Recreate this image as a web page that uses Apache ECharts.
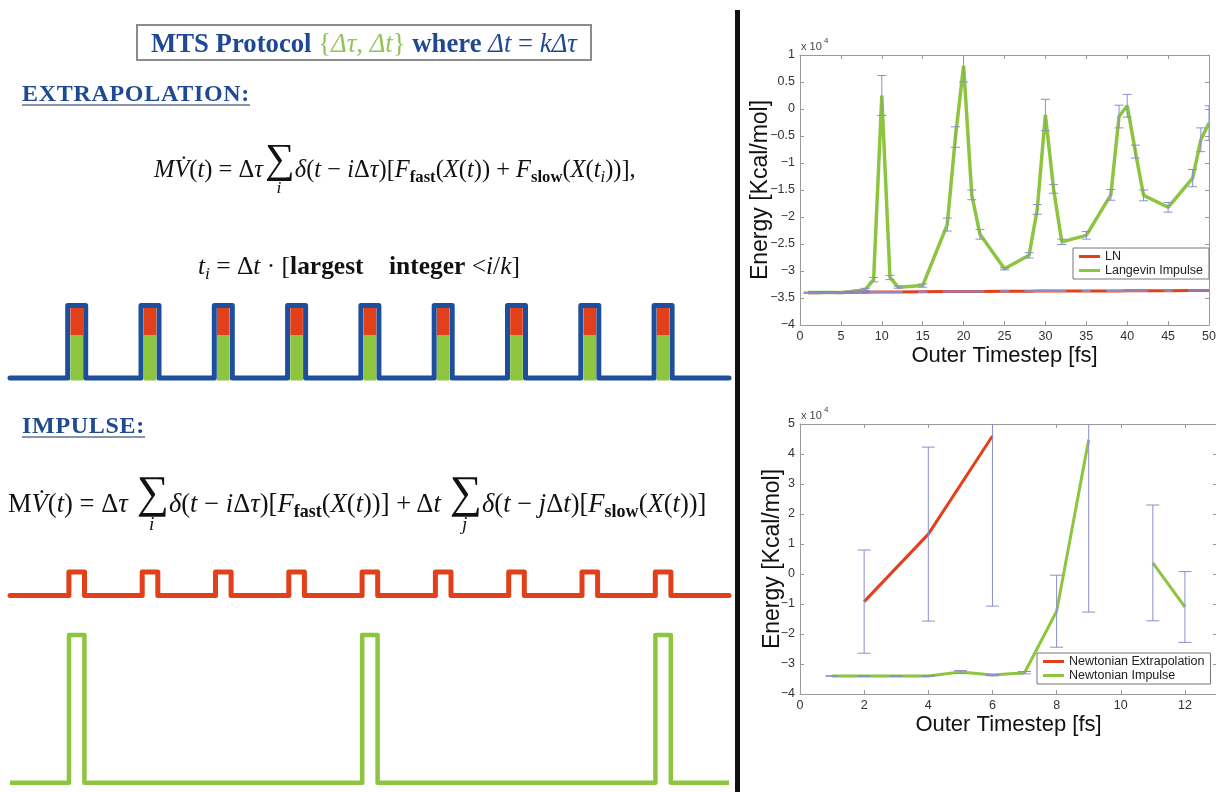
<!DOCTYPE html>
<html lang="en">
<head>
<meta charset="UTF-8">
<title>MTS Protocol - extrapolation vs impulse</title>
<script src="https://cdn.jsdelivr.net/npm/echarts@6/dist/echarts.min.js"></script>
<style>
    body { margin: 0; background: #fff; }
    #wrap { position: relative; width: 1216px; height: 792px; overflow: hidden; background: #fff; }
    #chart { position: absolute; left: 0; top: 0; width: 1216px; height: 792px; }
    .txt { position: absolute; font-family: "Liberation Serif", "DejaVu Serif", serif; color: #111; white-space: nowrap; line-height: 1.2; z-index: 2; }
    .head { color: #1f4a93; font-weight: bold; font-size: 24px; line-height: 24px; letter-spacing: 0.7px;
            text-decoration: underline; text-decoration-color: #8d93a6; text-decoration-thickness: 2px; text-underline-offset: 3px; }
    .txt sub { font-size: 0.68em; vertical-align: -0.3em; line-height: 0; }
    .b { font-weight: bold; font-style: normal; }
    .sum { display: inline-block; position: relative; width: 1.3em; height: 1em; vertical-align: -0.1em; }
    .sum .sym { position: absolute; left: 0.05em; top: -0.4em; font-size: 1.7em; line-height: 1; font-style: normal; }
    .sum .lim { position: absolute; left: 0; width: 100%; top: 1.3em; text-align: center; font-size: 0.72em; font-style: italic; }
    #box { position: absolute; left: 136px; top: 24px; width: 452px; height: 33px; border: 2px solid #8c8c8c; z-index: 1; }
    #divider { position: absolute; left: 735px; top: 10px; width: 5px; height: 782px; background: #111; z-index: 2; }
</style>
</head>
<body>
<div id="wrap">
    <div id="chart"></div>
    <div id="box"></div>
    <div id="divider"></div>

    <div class="txt" id="boxText"><b style="color:#1f4a93">MTS Protocol</b> <span style="color:#93c35a">{<i>Δτ</i>, <i>Δt</i>}</span> <b style="color:#1f4a93">where</b> <span style="color:#1f4a93"><i>Δt</i> = <i>kΔτ</i></span></div>

    <div class="txt head" style="left:22px; top:81px;">EXTRAPOLATION:</div>
    <div class="txt head" style="left:22px; top:413px;">IMPULSE:</div>

    <div class="txt" id="eq1"><i>M</i><i>V̇</i>(<i>t</i>) = Δ<i>τ</i><span class="sum"><span class="sym">∑</span><span class="lim">i</span></span><i>δ</i>(<i>t</i> − <i>i</i>Δ<i>τ</i>)[<i>F</i><sub class="b">fast</sub>(<i>X</i>(<i>t</i>)) + <i>F</i><sub class="b">slow</sub>(<i>X</i>(<i>t</i><sub><i>i</i></sub>))],</div>

    <div class="txt" id="eq2"><i>t</i><sub><i>i</i></sub> = Δ<i>t</i> · [<b>largest</b>&emsp;<b>integer</b> &lt;<i>i</i>/<i>k</i>]</div>

    <div class="txt" id="eq3">M<i>V̇</i>(<i>t</i>) = Δ<i>τ</i> <span class="sum"><span class="sym">∑</span><span class="lim">i</span></span><i>δ</i>(<i>t</i> − <i>i</i>Δ<i>τ</i>)[<i>F</i><sub class="b">fast</sub>(<i>X</i>(<i>t</i>))] + Δ<i>t</i> <span class="sum"><span class="sym">∑</span><span class="lim">j</span></span><i>δ</i>(<i>t</i> − <i>j</i>Δ<i>t</i>)[<i>F</i><sub class="b">slow</sub>(<i>X</i>(<i>t</i>))]</div>
</div>

<script type="text/javascript">
    // pulse trains, in units of the inner step (pulse index)
    var extrapPulses = [1, 2, 3, 4, 5, 6, 7, 8, 9];
    var fastPulses = [1, 2, 3, 4, 5, 6, 7, 8, 9];
    var slowPulses = [1, 5, 9];

    // top right: Langevin runs (energy in units of 1e4 kcal/mol)
    var langX = [1, 2, 3, 4, 5, 6, 7, 8, 9, 10, 11, 12, 15, 18, 19, 20, 21, 22, 25, 28, 29, 30, 31, 32, 35, 38, 39, 40, 41, 42, 45, 48, 49, 50];
    var lnY = [-3.405, -3.405, -3.40, -3.40, -3.40, -3.40, -3.395, -3.395, -3.39, -3.39, -3.39, -3.39, -3.385, -3.38, -3.38, -3.38, -3.38, -3.38, -3.375, -3.375, -3.37, -3.37, -3.37, -3.37, -3.37, -3.37, -3.37, -3.365, -3.365, -3.365, -3.365, -3.36, -3.36, -3.36];
    var lnErr = [0.01, 0.01, 0.01, 0.01, 0.01, 0.01, 0.01, 0.01, 0.01, 0.01, 0.01, 0.01, 0.01, 0.01, 0.01, 0.01, 0.01, 0.01, 0.01, 0.01, 0.01, 0.01, 0.01, 0.01, 0.01, 0.01, 0.01, 0.01, 0.01, 0.01, 0.01, 0.01, 0.01, 0.01];
    var langY = [-3.40, -3.40, -3.40, -3.40, -3.40, -3.39, -3.37, -3.34, -3.16, 0.25, -3.12, -3.30, -3.27, -2.14, -0.52, 0.80, -1.59, -2.32, -2.96, -2.71, -1.86, -0.11, -1.48, -2.46, -2.34, -1.59, -0.14, 0.06, -0.79, -1.60, -1.82, -1.28, -0.57, -0.26];
    var langErr = [0.01, 0.01, 0.01, 0.01, 0.02, 0.02, 0.02, 0.02, 0.04, 0.37, 0.04, 0.02, 0.03, 0.12, 0.19, 0.30, 0.09, 0.09, 0.02, 0.05, 0.09, 0.29, 0.08, 0.05, 0.07, 0.10, 0.21, 0.21, 0.12, 0.10, 0.09, 0.16, 0.22, 0.32];

    // bottom right: Newtonian runs
    var newtX = [1, 2, 3, 4, 5, 6, 7, 8, 9, 10, 11, 12];
    var extrapY = [null, -0.92, null, 1.33, null, 4.60, null, null, null, null, null, null];
    var extrapErr = [null, 1.72, null, 2.90, null, 5.67, null, null, null, null, null, null];
    var impulseY = [-3.40, -3.40, -3.40, -3.40, -3.27, -3.37, -3.29, -1.24, 4.48, null, 0.37, -1.10];
    var impulseErr = [0.01, 0.01, 0.01, 0.01, 0.05, 0.02, 0.04, 1.20, 5.75, null, 1.93, 1.18];

    var BLUE = '#1d4f9c', RED = '#e2401b', GREEN = '#8dc540', ERR = '#8a8ecf';
    var SANS = '"Liberation Sans", Arial, Helvetica, sans-serif';

    // pulse axis: grid spans 719px, pulse pitch 73.3px
    var pMin = 0.09, pMax = 9.899, pulseW = 719;
    function pxToPulse(px) { return px * (pMax - pMin) / pulseW; }

    function pulseLine(centers, halfPx) {
        var h = pxToPulse(halfPx);
        var pts = [[pMin, 0]];
        centers.forEach(function (c) {
            pts.push([c - h, 0], [c - h, 1], [c + h, 1], [c + h, 0]);
        });
        pts.push([pMax, 0]);
        return pts;
    }

    function pairs(xs, ys) {
        return xs.map(function (x, i) { return [x, ys[i] == null ? '-' : ys[i]]; });
    }
    function errData(xs, ys, es) {
        var out = [];
        xs.forEach(function (x, i) {
            if (ys[i] == null || es[i] == null) return;
            out.push([x, ys[i] - es[i], ys[i] + es[i]]);
        });
        return out;
    }
    function errorBars(capPx) {
        return function (params, api) {
            var x = api.value(0);
            var lo = api.coord([x, api.value(1)]);
            var hi = api.coord([x, api.value(2)]);
            var h = capPx / 2;
            var st = { stroke: ERR, lineWidth: 1 };
            return {
                type: 'group',
                children: [
                    { type: 'line', shape: { x1: lo[0], y1: lo[1], x2: hi[0], y2: hi[1] }, style: st },
                    { type: 'line', shape: { x1: lo[0] - h, y1: lo[1], x2: lo[0] + h, y2: lo[1] }, style: st },
                    { type: 'line', shape: { x1: hi[0] - h, y1: hi[1], x2: hi[0] + h, y2: hi[1] }, style: st }
                ]
            };
        };
    }
    function minus(v) { return String(v).replace('-', '\u2212'); }

    // matlab-like boxed axes
    var boxLine = { show: true, onZero: false, lineStyle: { color: '#9a9a9a', width: 1 } };
    var boxTick = { show: true, inside: true, length: 4, lineStyle: { color: '#9a9a9a' } };

    function xAxes(grid, min, max, interval) {
        return [{
            gridIndex: grid, type: 'value', min: min, max: max, interval: interval,
            axisLine: boxLine, axisTick: boxTick, splitLine: { show: false },
            axisLabel: { fontFamily: SANS, fontSize: 12.5, color: '#333', margin: 5, showMaxLabel: max % interval === 0 },
            name: 'Outer Timestep [fs]', nameLocation: 'middle', nameGap: 20, nameMoveOverlap: false,
            nameTextStyle: { fontFamily: SANS, fontSize: 22, color: '#111' }
        }, {
            gridIndex: grid, type: 'value', position: 'top', min: min, max: max, interval: interval,
            axisLine: boxLine, axisTick: boxTick, axisLabel: { show: false }, splitLine: { show: false }
        }];
    }
    function yAxes(grid, min, max, interval, gap) {
        return [{
            gridIndex: grid, type: 'value', min: min, max: max, interval: interval,
            axisLine: boxLine, axisTick: boxTick, splitLine: { show: false },
            axisLabel: { fontFamily: SANS, fontSize: 12.5, color: '#333', margin: 5, formatter: minus },
            name: 'Energy [Kcal/mol]', nameLocation: 'middle', nameGap: gap, nameMoveOverlap: false,
            nameTextStyle: { fontFamily: SANS, fontSize: 23, color: '#111' }
        }, {
            gridIndex: grid, type: 'value', position: 'right', min: min, max: max, interval: interval,
            axisLine: boxLine, axisTick: boxTick, axisLabel: { show: false }, splitLine: { show: false }
        }];
    }
    function hiddenAxis(grid, min, max) {
        return { gridIndex: grid, type: 'value', min: min, max: max, show: false, splitLine: { show: false } };
    }

    var xAxis = [].concat(
        xAxes(0, 0, 50, 5),
        xAxes(1, 0, 13, 2),
        [hiddenAxis(2, pMin, pMax), hiddenAxis(3, pMin, pMax), hiddenAxis(4, pMin, pMax)]
    );
    var yAxis = [].concat(
        yAxes(0, -4, 1, 0.5, 28),
        yAxes(1, -4, 5, 1, 16),
        [hiddenAxis(2, 0, 1), hiddenAxis(3, 0, 1), hiddenAxis(4, 0, 1)]
    );

    var extrapSplit = 0.593;

    var series = [
        // pulse trains
        {
            type: 'line', xAxisIndex: 4, yAxisIndex: 4, data: pulseLine(extrapPulses, 9),
            symbol: 'none', clip: false, z: 2,
            lineStyle: { color: BLUE, width: 5, cap: 'round', join: 'round' }
        },
        {
            type: 'custom', xAxisIndex: 4, yAxisIndex: 4, z: 3,
            data: extrapPulses.map(function (c) { return [c]; }),
            renderItem: function (params, api) {
                var c = api.value(0);
                var top = api.coord([c, 1]), base = api.coord([c, 0]), mid = api.coord([c, extrapSplit]);
                var hw = 6.3;
                return {
                    type: 'group', children: [
                        { type: 'rect', shape: { x: top[0] - hw, y: top[1] + 2.5, width: 2 * hw, height: mid[1] - top[1] - 2.5 }, style: { fill: RED } },
                        { type: 'rect', shape: { x: top[0] - hw, y: mid[1], width: 2 * hw, height: base[1] + 2.5 - mid[1] }, style: { fill: GREEN } }
                    ]
                };
            }
        },
        {
            type: 'line', xAxisIndex: 5, yAxisIndex: 5, data: pulseLine(fastPulses, 7.8),
            symbol: 'none', clip: false,
            lineStyle: { color: RED, width: 5, cap: 'round', join: 'round' }
        },
        {
            type: 'line', xAxisIndex: 6, yAxisIndex: 6, data: pulseLine(slowPulses, 7.7),
            symbol: 'none', clip: false,
            lineStyle: { color: GREEN, width: 4.5, cap: 'butt', join: 'round' }
        },

        // top right chart
        {
            name: 'Langevin Impulse', type: 'line', xAxisIndex: 0, yAxisIndex: 0,
            data: pairs(langX, langY), symbol: 'none', z: 2,
            lineStyle: { color: GREEN, width: 3.5 }, itemStyle: { color: GREEN }
        },
        {
            name: 'LN', type: 'line', xAxisIndex: 0, yAxisIndex: 0,
            data: pairs(langX, lnY), symbol: 'none', z: 3,
            lineStyle: { color: RED, width: 3 }, itemStyle: { color: RED }
        },
        {
            type: 'custom', xAxisIndex: 0, yAxisIndex: 0, clip: true, z: 4,
            data: errData(langX, langY, langErr), renderItem: errorBars(9)
        },
        {
            type: 'custom', xAxisIndex: 0, yAxisIndex: 0, clip: true, z: 4,
            data: errData(langX, lnY, lnErr), renderItem: errorBars(9)
        },

        // bottom right chart
        {
            name: 'Newtonian Extrapolation', type: 'line', xAxisIndex: 2, yAxisIndex: 2,
            data: pairs(newtX, extrapY), symbol: 'none', connectNulls: true, z: 3,
            lineStyle: { color: RED, width: 3 }, itemStyle: { color: RED }
        },
        {
            name: 'Newtonian Impulse', type: 'line', xAxisIndex: 2, yAxisIndex: 2,
            data: pairs(newtX, impulseY), symbol: 'none', connectNulls: false, z: 3,
            lineStyle: { color: GREEN, width: 3 }, itemStyle: { color: GREEN }
        },
        {
            type: 'custom', xAxisIndex: 2, yAxisIndex: 2, clip: true, z: 4,
            data: errData(newtX, extrapY, extrapErr), renderItem: errorBars(13)
        },
        {
            type: 'custom', xAxisIndex: 2, yAxisIndex: 2, clip: true, z: 4,
            data: errData(newtX, impulseY, impulseErr), renderItem: errorBars(13)
        }
    ];

    var legendBase = {
        orient: 'vertical', icon: 'rect', itemWidth: 21, itemHeight: 3, itemGap: 1,
        backgroundColor: '#fff', borderColor: '#777', borderWidth: 1, borderRadius: 0,
        padding: [2, 6, 2, 6],
        textStyle: { fontFamily: SANS, fontSize: 12.5, lineHeight: 13, color: '#222' }
    };

    var myChart = echarts.init(document.getElementById('chart'), null, { renderer: 'canvas' });
    myChart.setOption({
        animation: false,
        backgroundColor: 'transparent',
        grid: [
            { left: 800, top: 55, width: 409, height: 270, outerBoundsMode: 'none' },
            { left: 800, top: 424, width: 417, height: 270, outerBoundsMode: 'none' },
            { left: 10, top: 305.5, width: pulseW, height: 72.5, outerBoundsMode: 'none' },
            { left: 10, top: 572, width: pulseW, height: 23.5, outerBoundsMode: 'none' },
            { left: 10, top: 635, width: pulseW, height: 147.7, outerBoundsMode: 'none' }
        ],
        xAxis: xAxis,
        yAxis: yAxis,
        legend: [
            Object.assign({}, legendBase, { left: 1073, top: 248, data: ['LN', 'Langevin Impulse'] }),
            Object.assign({}, legendBase, { left: 1037, top: 653, data: ['Newtonian Extrapolation', 'Newtonian Impulse'] })
        ],
        graphic: [
            { type: 'text', left: 801, top: 41, style: { text: 'x 10', fontFamily: SANS, fontSize: 11, fill: '#444' } },
            { type: 'text', left: 824, top: 37, style: { text: '4', fontFamily: SANS, fontSize: 8, fill: '#444' } },
            { type: 'text', left: 801, top: 410, style: { text: 'x 10', fontFamily: SANS, fontSize: 11, fill: '#444' } },
            { type: 'text', left: 824, top: 406, style: { text: '4', fontFamily: SANS, fontSize: 8, fill: '#444' } }
        ],
        series: series
    });

    // size the formulas so that they cover the same span as in the slide
    function fit(id, left, right, cy) {
        var el = document.getElementById(id);
        el.style.fontSize = '22px';
        var w = el.getBoundingClientRect().width;
        var fs = 22 * (right - left) / w;
        el.style.fontSize = fs + 'px';
        el.style.left = left + 'px';
        el.style.top = (cy - el.offsetHeight / 2) + 'px';
    }
    function layoutText() {
        fit('boxText', 151, 577, 43);
        fit('eq1', 154, 636, 168);
        fit('eq2', 198, 520, 266);
        fit('eq3', 8, 707, 504);
    }
    layoutText();
    if (document.fonts && document.fonts.ready) {
        document.fonts.ready.then(layoutText);
    }
</script>
</body>
</html>
